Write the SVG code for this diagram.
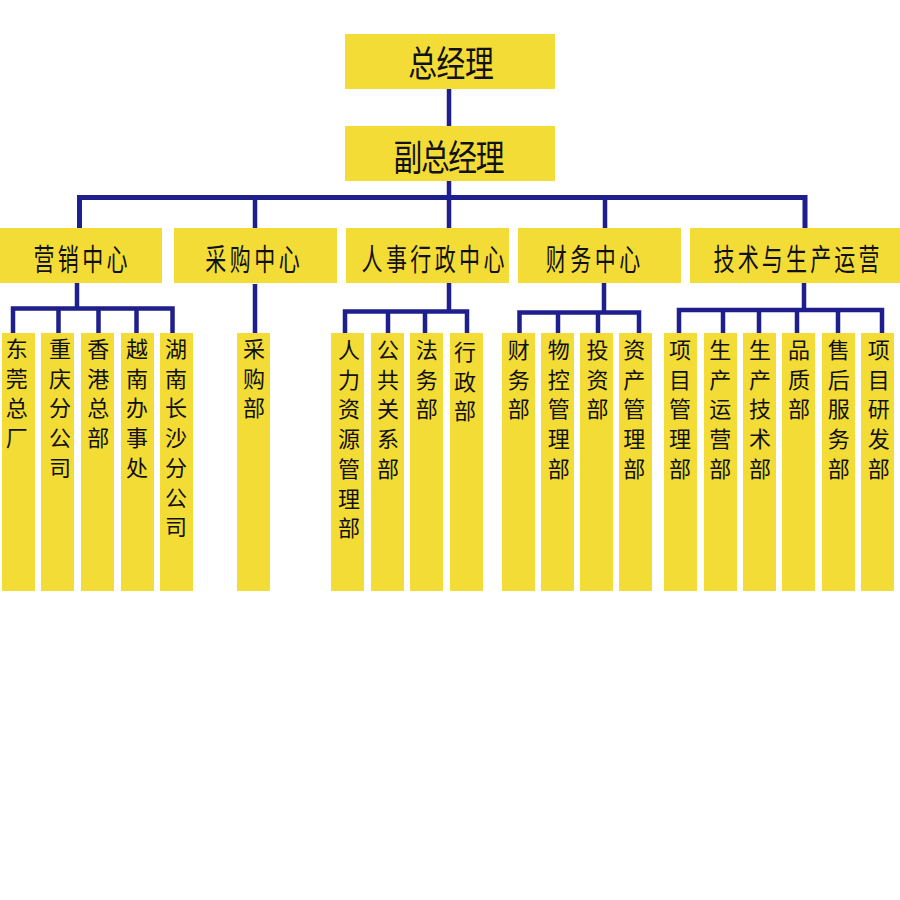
<svg xmlns="http://www.w3.org/2000/svg" width="900" height="900" viewBox="0 0 900 900">
<style>
.box{fill:#F4DC36}
.ln{fill:none;stroke:#1E1F8C;stroke-width:4.5;stroke-linecap:butt;stroke-linejoin:miter}
.big{font-family:"Noto Sans CJK SC","Noto Sans",sans-serif;font-size:36px;fill:#111;text-anchor:middle}
.mid{font-family:"Noto Sans CJK SC","Noto Sans",sans-serif;font-size:30px;fill:#111;text-anchor:middle}
.leaf{font-family:"Noto Sans CJK SC","Noto Sans",sans-serif;font-size:22px;fill:#111;text-anchor:middle}
</style>
<rect width="900" height="900" fill="#fff"/>
<g id="connectors">
<path class="ln" d="M449,89 V126"/>
<path class="ln" d="M449,181 V228"/>
<path class="ln" style="stroke-width:5" d="M79.5,228 V197.5 H805 V228"/>
<path class="ln" d="M255,197.5 V228"/>
<path class="ln" d="M605,197.5 V228"/>
<path class="ln" d="M77,283 V308.5"/>
<path class="ln" d="M13,333 V308.5 H172.5 V333 M58.5,308.5 V333 M98.5,308.5 V333 M136.5,308.5 V333"/>
<path class="ln" d="M255,284 V333"/>
<path class="ln" d="M449,283 V311.5"/>
<path class="ln" d="M345,333 V311.5 H467 V333 M388,311.5 V333 M425,311.5 V333"/>
<path class="ln" d="M604,283 V312.5"/>
<path class="ln" d="M519.5,333 V312.5 H639 V333 M558,312.5 V333 M598,312.5 V333"/>
<path class="ln" d="M804,283 V310"/>
<path class="ln" d="M679,333 V310 H882 V333 M723,310 V333 M759,310 V333 M797,310 V333 M838,310 V333"/>
</g>
<g id="n-gm"><rect class="box" x="345" y="34" width="210" height="55"/><g transform="translate(451,76.5) scale(0.8,1)"><text class="big" x="0" y="0" textLength="107" lengthAdjust="spacing">总经理</text></g></g>
<g id="n-vgm"><rect class="box" x="345" y="126" width="210" height="55"/><g transform="translate(449,170.5) scale(0.8,1)"><text class="big" x="0" y="0" textLength="139" lengthAdjust="spacing">副总经理</text></g></g>
<g id="n-sales"><rect class="box" x="0" y="228" width="162" height="55"/><g transform="translate(80.5,270) scale(0.7,1)"><text class="mid" x="0" y="0" textLength="134" lengthAdjust="spacing">营销中心</text></g></g>
<g id="n-purch"><rect class="box" x="174" y="228" width="163" height="55"/><g transform="translate(252.5,270) scale(0.7,1)"><text class="mid" x="0" y="0" textLength="135" lengthAdjust="spacing">采购中心</text></g></g>
<g id="n-hr"><rect class="box" x="346" y="228" width="163" height="55"/><g transform="translate(433,270) scale(0.7,1)"><text class="mid" x="0" y="0" textLength="204" lengthAdjust="spacing">人事行政中心</text></g></g>
<g id="n-fin"><rect class="box" x="518" y="228" width="163" height="55"/><g transform="translate(593,270) scale(0.7,1)"><text class="mid" x="0" y="0" textLength="135" lengthAdjust="spacing">财务中心</text></g></g>
<g id="n-tech"><rect class="box" x="690" y="228" width="210" height="55"/><g transform="translate(796.5,270) scale(0.7,1)"><text class="mid" x="0" y="0" textLength="237" lengthAdjust="spacing">技术与生产运营</text></g></g>

<g id="l-dg"><rect class="box" x="2" y="333" width="33" height="258"/><text class="leaf" x="16.7" y="357"><tspan x="16.7">东</tspan><tspan x="16.7" dy="29.7">莞</tspan><tspan x="16.7" dy="29.7">总</tspan><tspan x="16.7" dy="29.7">厂</tspan></text></g>
<g id="l-cq"><rect class="box" x="41" y="333" width="33" height="258"/><text class="leaf" x="60" y="357"><tspan x="60">重</tspan><tspan x="60" dy="29.7">庆</tspan><tspan x="60" dy="29.7">分</tspan><tspan x="60" dy="29.7">公</tspan><tspan x="60" dy="29.7">司</tspan></text></g>
<g id="l-hk"><rect class="box" x="81" y="333" width="33" height="258"/><text class="leaf" x="98.3" y="357"><tspan x="98.3">香</tspan><tspan x="98.3" dy="29.7">港</tspan><tspan x="98.3" dy="29.7">总</tspan><tspan x="98.3" dy="29.7">部</tspan></text></g>
<g id="l-vn"><rect class="box" x="121" y="333" width="33" height="258"/><text class="leaf" x="137" y="357"><tspan x="137">越</tspan><tspan x="137" dy="29.7">南</tspan><tspan x="137" dy="29.7">办</tspan><tspan x="137" dy="29.7">事</tspan><tspan x="137" dy="29.7">处</tspan></text></g>
<g id="l-hn"><rect class="box" x="160" y="333" width="33" height="258"/><text class="leaf" x="176" y="357"><tspan x="176">湖</tspan><tspan x="176" dy="29.7">南</tspan><tspan x="176" dy="29.7">长</tspan><tspan x="176" dy="29.7">沙</tspan><tspan x="176" dy="29.7">分</tspan><tspan x="176" dy="29.7">公</tspan><tspan x="176" dy="29.7">司</tspan></text></g>
<g id="l-cg"><rect class="box" x="237" y="333" width="33" height="258"/><text class="leaf" x="254" y="357"><tspan x="254">采</tspan><tspan x="254" dy="29.7">购</tspan><tspan x="254" dy="29.7">部</tspan></text></g>

<g id="l-rl"><rect class="box" x="331" y="333" width="33" height="258"/><text class="leaf" x="349" y="358"><tspan x="349">人</tspan><tspan x="349" dy="29.7">力</tspan><tspan x="349" dy="29.7">资</tspan><tspan x="349" dy="29.7">源</tspan><tspan x="349" dy="29.7">管</tspan><tspan x="349" dy="29.7">理</tspan><tspan x="349" dy="29.7">部</tspan></text></g>
<g id="l-gg"><rect class="box" x="371" y="333" width="33" height="258"/><text class="leaf" x="388" y="358"><tspan x="388">公</tspan><tspan x="388" dy="29.7">共</tspan><tspan x="388" dy="29.7">关</tspan><tspan x="388" dy="29.7">系</tspan><tspan x="388" dy="29.7">部</tspan></text></g>
<g id="l-fw"><rect class="box" x="410" y="333" width="33" height="258"/><text class="leaf" x="426.7" y="358"><tspan x="426.7">法</tspan><tspan x="426.7" dy="29.7">务</tspan><tspan x="426.7" dy="29.7">部</tspan></text></g>
<g id="l-xz"><rect class="box" x="450" y="333" width="33" height="258"/><text class="leaf" x="465" y="360"><tspan x="465">行</tspan><tspan x="465" dy="29.7">政</tspan><tspan x="465" dy="29.7">部</tspan></text></g>

<g id="l-cw"><rect class="box" x="502" y="333" width="33" height="258"/><text class="leaf" x="518.8" y="358"><tspan x="518.8">财</tspan><tspan x="518.8" dy="29.7">务</tspan><tspan x="518.8" dy="29.7">部</tspan></text></g>
<g id="l-wk"><rect class="box" x="541" y="333" width="33" height="258"/><text class="leaf" x="558.8" y="358"><tspan x="558.8">物</tspan><tspan x="558.8" dy="29.7">控</tspan><tspan x="558.8" dy="29.7">管</tspan><tspan x="558.8" dy="29.7">理</tspan><tspan x="558.8" dy="29.7">部</tspan></text></g>
<g id="l-tz"><rect class="box" x="580" y="333" width="33" height="258"/><text class="leaf" x="597.5" y="358"><tspan x="597.5">投</tspan><tspan x="597.5" dy="29.7">资</tspan><tspan x="597.5" dy="29.7">部</tspan></text></g>
<g id="l-zc"><rect class="box" x="619" y="333" width="33" height="258"/><text class="leaf" x="634.3" y="358"><tspan x="634.3">资</tspan><tspan x="634.3" dy="29.7">产</tspan><tspan x="634.3" dy="29.7">管</tspan><tspan x="634.3" dy="29.7">理</tspan><tspan x="634.3" dy="29.7">部</tspan></text></g>

<g id="l-xm"><rect class="box" x="664" y="333" width="33" height="258"/><text class="leaf" x="680" y="358"><tspan x="680">项</tspan><tspan x="680" dy="29.7">目</tspan><tspan x="680" dy="29.7">管</tspan><tspan x="680" dy="29.7">理</tspan><tspan x="680" dy="29.7">部</tspan></text></g>
<g id="l-sy"><rect class="box" x="704" y="333" width="33" height="258"/><text class="leaf" x="720.3" y="358"><tspan x="720.3">生</tspan><tspan x="720.3" dy="29.7">产</tspan><tspan x="720.3" dy="29.7">运</tspan><tspan x="720.3" dy="29.7">营</tspan><tspan x="720.3" dy="29.7">部</tspan></text></g>
<g id="l-sj"><rect class="box" x="743" y="333" width="33" height="258"/><text class="leaf" x="760" y="358"><tspan x="760">生</tspan><tspan x="760" dy="29.7">产</tspan><tspan x="760" dy="29.7">技</tspan><tspan x="760" dy="29.7">术</tspan><tspan x="760" dy="29.7">部</tspan></text></g>
<g id="l-pz"><rect class="box" x="782" y="333" width="33" height="258"/><text class="leaf" x="799" y="358"><tspan x="799">品</tspan><tspan x="799" dy="29.7">质</tspan><tspan x="799" dy="29.7">部</tspan></text></g>
<g id="l-sh"><rect class="box" x="822" y="333" width="33" height="258"/><text class="leaf" x="838.7" y="358"><tspan x="838.7">售</tspan><tspan x="838.7" dy="29.7">后</tspan><tspan x="838.7" dy="29.7">服</tspan><tspan x="838.7" dy="29.7">务</tspan><tspan x="838.7" dy="29.7">部</tspan></text></g>
<g id="l-yf"><rect class="box" x="861" y="333" width="33" height="258"/><text class="leaf" x="878.7" y="358"><tspan x="878.7">项</tspan><tspan x="878.7" dy="29.7">目</tspan><tspan x="878.7" dy="29.7">研</tspan><tspan x="878.7" dy="29.7">发</tspan><tspan x="878.7" dy="29.7">部</tspan></text></g>
</svg>
